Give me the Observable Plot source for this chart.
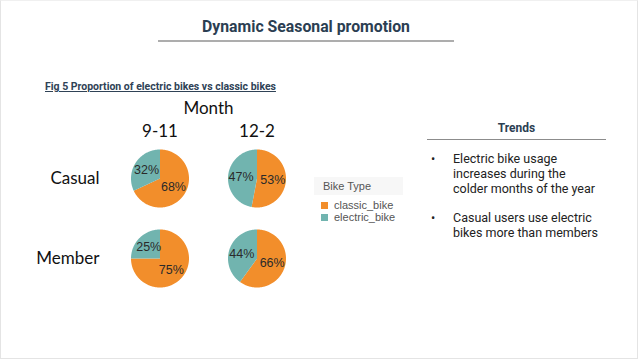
<!DOCTYPE html>
<html>
<head>
<meta charset="utf-8">
<script src="https://cdn.jsdelivr.net/npm/d3@7"></script>
<script src="https://cdn.jsdelivr.net/npm/@observablehq/plot@0.6"></script>
<style>
  html, body { margin: 0; padding: 0; background: #fff; }
  #slide { position: relative; width: 636px; height: 357px; border: 1px solid #e4e4e4; border-top-color: #f0f0f0; overflow: hidden; font-family: Roboto, "Noto Sans", sans-serif; }
  .abs { position: absolute; }
  #title { left: 157px; width: 296px; top: 16px; text-align: center; font-weight: 700; font-size: 15.8px; color: #2b3e52; }
  #titleRule { left: 157px; width: 296px; top: 39px; height: 0; border-top: 2px solid #adadad; }
  #caption { left: 44px; top: 79px; font-weight: 700; font-size: 10.5px; color: #2f4256; text-decoration: underline; white-space: nowrap; }
  #chart { left: 0; top: 92px; }
  #legend { left: 313px; top: 176px; font-family: "Liberation Sans", Arial, sans-serif; color: #555; font-size: 11px; }
  #legend .head { background: #f7f7f7; width: 80px; padding: 3px 0 3px 9px; margin-bottom: 4px; }
  #legend .item { display: flex; align-items: center; height: 12px; padding-left: 7px; }
  #legend .sw { width: 7px; height: 7px; margin-right: 6px; }
  #trendsHead { left: 426px; width: 179px; top: 120px; text-align: center; font-weight: 700; font-size: 12px; color: #2b3e52; }
  #trendsRule { left: 426px; width: 179px; top: 138px; border-top: 1.5px solid #8c8c8c; }
  .bullet { left: 430px; font-size: 12.5px; line-height: 15px; color: #222; display: flex; }
  .bullet .dot { width: 22px; }
</style>
</head>
<body>
<div id="slide">
  <div id="title" class="abs">Dynamic Seasonal promotion</div>
  <div id="titleRule" class="abs"></div>
  <div id="caption" class="abs">Fig 5 Proportion of electric bikes vs classic bikes</div>
  <div id="chart" class="abs"></div>
  <div id="legend" class="abs"></div>
  <div id="trendsHead" class="abs">Trends</div>
  <div id="trendsRule" class="abs"></div>
  <div id="bullets"></div>
</div>
<script>
// Month groups (columns) and rider types (rows)
const months = ["9-11", "12-2"];
const riders = ["Casual", "Member"];
const bikeTypes = ["classic_bike", "electric_bike"];
const bikeColors = ["#f28e2b", "#71b4af"];

// Share of rides (%) per rider row, month column
const classicShare = [[68, 53], [75, 66]];
const electricShare = [[32, 47], [25, 44]];

const trendNotes = [
  ["Electric bike usage", "increases during the", "colder months of the year"],
  ["Casual users use electric", "bikes more than members"]
];

// Build pie wedges: classic starts at 12 o'clock, clockwise, electric follows
const wedges = [];
const labels = [];
riders.forEach((rider, ri) => {
  months.forEach((month, mi) => {
    const shares = [classicShare[ri][mi], electricShare[ri][mi]];
    const total = d3.sum(shares);
    let start = 0;
    shares.forEach((v, ti) => {
      const a0 = start / total * 2 * Math.PI;
      const a1 = (start + v) / total * 2 * Math.PI;
      const key = `${rider}-${month}-${bikeTypes[ti]}`;
      const steps = Math.max(2, Math.ceil((a1 - a0) / (Math.PI / 180)));
      wedges.push({key, rider, month, type: bikeTypes[ti], x: 0, y: 0});
      for (let s = 0; s <= steps; s++) {
        const a = a0 + (a1 - a0) * s / steps;
        wedges.push({key, rider, month, type: bikeTypes[ti], x: Math.sin(a), y: Math.cos(a)});
      }
      wedges.push({key, rider, month, type: bikeTypes[ti], x: 0, y: 0});
      const mid = (a0 + a1) / 2;
      labels.push({rider, month, type: bikeTypes[ti], x: 0.55 * Math.sin(mid), y: 0.55 * Math.cos(mid), text: `${v}%`});
      start += v;
    });
  });
});

const cellW = 97, cellH = 80, radius = 29;
const chart = Plot.plot({
  width: 320,
  height: 215,
  marginLeft: 110,
  marginRight: 16,
  marginTop: 45,
  marginBottom: 10,
  style: {fontFamily: "Lato, 'Liberation Sans', sans-serif", color: "#111", background: "transparent"},
  fx: {domain: months, padding: 0},
  fy: {domain: riders, padding: 0},
  x: {domain: [-cellW / 2 / radius, cellW / 2 / radius], axis: null},
  y: {domain: [-cellH / 2 / radius, cellH / 2 / radius], axis: null},
  color: {domain: bikeTypes, range: bikeColors},
  marks: [
    Plot.line(wedges, {x: "x", y: "y", z: "key", fx: "month", fy: "rider", fill: "type", stroke: null, curve: "linear"}),
    Plot.text(labels, {x: "x", y: "y", fx: "month", fy: "rider", text: "text", fill: "#2a2a2a", fontSize: 12.5, fontFamily: "'Liberation Sans', Arial, sans-serif"}),
    Plot.axisFx({anchor: "top", label: "Month", labelAnchor: "center", labelOffset: 37, tickSize: 0, tickPadding: 2, fontSize: 17}),
    Plot.axisFy({anchor: "left", label: null, tickSize: 0, tickPadding: 12, fontSize: 17})
  ]
});
document.getElementById("chart").appendChild(chart);

// Legend for bike type
const legend = document.getElementById("legend");
legend.innerHTML = `<div class="head">Bike Type</div>` + bikeTypes.map((t, i) =>
  `<div class="item"><div class="sw" style="background:${bikeColors[i]}"></div>${t}</div>`).join("");

// Trend bullet notes
const bulletTops = [150, 209];
trendNotes.forEach((lines, i) => {
  const div = document.createElement("div");
  div.className = "abs bullet";
  div.style.top = bulletTops[i] + "px";
  div.innerHTML = `<div class="dot">•</div><div>${lines.join("<br>")}</div>`;
  document.getElementById("slide").appendChild(div);
});
</script>
</body>
</html>
